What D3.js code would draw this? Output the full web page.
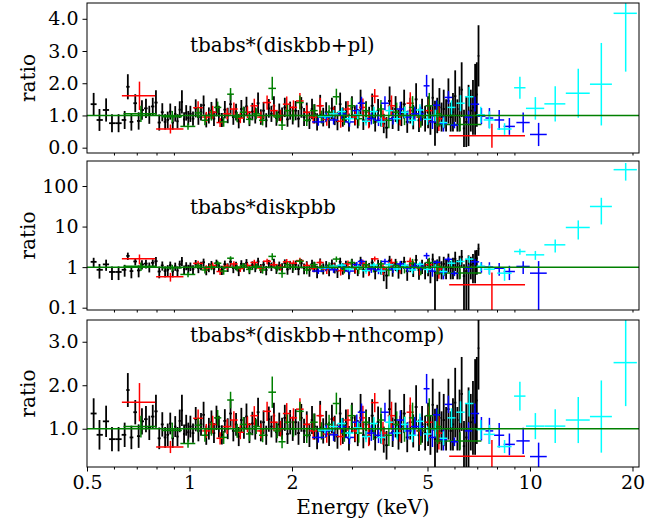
<!DOCTYPE html>
<html>
<head>
<meta charset="utf-8">
<script src="https://cdn.jsdelivr.net/npm/d3@7"></script>
<style>
  body { margin: 0; background: #fff; }
  text { font-family: "DejaVu Serif", serif; fill: #000; }
</style>
</head>
<body>
<svg id="chart" width="670" height="531"></svg>
<script>
// ---- data: rows are [energy keV, ratio, ratio error] (+ half width keV for the wide-bin groups)

// black group, contiguous narrow bins
const blackData = [
  [0.523,1.35,0.35],[0.544,0.86,0.34],[0.569,1.17,0.36],[0.592,0.76,0.28],[0.619,0.76,0.28],
  [0.645,0.86,0.28],[0.659,1.89,0.39],[0.675,0.80,0.27],[0.693,1.38,0.28],[0.709,0.83,0.27],
  [0.725,1.17,0.30],[0.745,1.22,0.30],[0.762,1.02,0.28],[0.780,1.28,0.27],[0.797,1.40,0.38],
  [0.815,0.78,0.25],[0.832,1.10,0.28],[0.848,0.80,0.24],[0.863,0.86,0.26],[0.878,1.12,0.25],
  [0.893,0.78,0.22],[0.908,1.05,0.24],[0.922,0.82,0.22],[0.936,1.18,0.26],[0.950,1.42,0.36],
  [0.964,0.88,0.22],[0.978,1.08,0.24],[0.992,0.92,0.22],
  [1.006,1.05,0.25],[1.024,0.90,0.22],[1.043,1.22,0.28],[1.062,0.95,0.24],[1.081,1.10,0.26],
  [1.100,1.32,0.30],[1.120,0.85,0.22],[1.140,1.00,0.25],[1.160,1.15,0.27],[1.180,0.90,0.23],
  [1.200,1.25,0.28],[1.220,1.05,0.25],[1.245,0.86,0.22],[1.270,1.18,0.27],[1.295,1.00,0.24],
  [1.320,1.35,0.32],[1.345,0.95,0.24],[1.370,1.10,0.26],[1.395,0.82,0.22],[1.420,1.20,0.28],
  [1.445,1.02,0.25],[1.470,1.28,0.30],[1.500,0.90,0.23],[1.530,1.12,0.27],[1.560,1.00,0.25],
  [1.590,1.38,0.33],[1.620,0.95,0.24],[1.650,1.15,0.27],[1.680,0.85,0.22],[1.710,1.22,0.29],
  [1.740,1.05,0.25],[1.770,1.30,0.30],[1.800,0.92,0.24],[1.835,1.10,0.27],[1.870,1.00,0.25],
  [1.905,1.25,0.30],[1.940,0.88,0.23],[1.975,1.15,0.28],
  [2.01,1.00,0.28],[2.05,1.15,0.30],[2.09,0.90,0.27],[2.13,1.25,0.32],[2.17,0.95,0.28],
  [2.21,1.10,0.30],[2.25,0.85,0.27],[2.29,1.20,0.32],[2.33,1.05,0.30],[2.37,0.80,0.27],
  [2.42,1.30,0.34],[2.47,0.95,0.29],[2.52,1.10,0.31],[2.57,0.88,0.28],[2.62,1.22,0.33],
  [2.67,1.00,0.30],[2.72,0.82,0.28],[2.77,1.35,0.36],[2.82,0.95,0.30],[2.88,1.12,0.32],
  [2.94,0.78,0.28],[3.00,1.25,0.35],[3.06,1.00,0.31],[3.12,0.90,0.30],[3.18,1.40,0.40],
  [3.24,0.85,0.30],[3.30,1.10,0.34],[3.37,0.95,0.32],[3.44,1.30,0.38],[3.51,0.80,0.30],
  [3.58,1.15,0.36],[3.65,1.00,0.34],[3.72,0.75,0.30],[3.79,0.62,0.33],[3.87,1.45,0.45],
  [3.95,0.92,0.34],[4.03,1.20,0.40],[4.11,0.85,0.33],[4.19,1.05,0.38],[4.27,1.35,0.45],
  [4.36,0.80,0.34],[4.45,1.15,0.40],[4.54,0.95,0.38],[4.63,1.50,0.50],[4.72,0.85,0.36],
  [4.82,1.10,0.42],[4.92,0.90,0.40],
  [5.02,1.10,0.50],[5.10,0.85,0.45],[5.18,1.55,0.60],[5.26,0.76,0.70],[5.34,1.00,0.55],
  [5.42,1.25,0.60],[5.50,0.95,0.45],[5.58,1.20,0.60],[5.67,1.00,0.50],[5.76,1.45,0.70],
  [5.85,0.95,0.45],[5.94,1.10,0.60],[6.03,1.60,0.80],[6.12,1.00,0.50],[6.21,1.20,0.70],
  [6.30,1.80,0.85],[6.40,0.60,0.58],[6.50,0.80,0.78],[6.60,1.00,0.95],[6.70,1.15,0.65],
  [6.80,1.25,0.85],[6.90,1.50,1.10],[6.98,1.65,1.00],[7.06,2.85,0.95]
];

const redData = [
  [0.713,1.61,0.44,0.080],[0.879,0.58,0.14,0.081],[1.06,1.24,0.20,0.035],[1.12,0.95,0.16,0.030],
  [1.17,1.10,0.20,0.030],[1.23,0.78,0.14,0.030],[1.29,1.05,0.17,0.035],[1.35,1.20,0.20,0.035],
  [1.41,0.92,0.16,0.035],[1.48,1.10,0.18,0.040],[1.55,1.30,0.22,0.040],[1.62,0.95,0.17,0.040],
  [1.69,1.40,0.22,0.045],[1.77,1.15,0.20,0.045],[1.85,1.00,0.18,0.050],[1.93,1.35,0.24,0.050],
  [2.02,1.25,0.22,0.050],[2.11,1.45,0.25,0.055],[2.21,1.10,0.22,0.055],[2.31,0.95,0.20,0.060],
  [2.42,1.30,0.25,0.060],[2.53,0.88,0.20,0.065],[2.65,1.05,0.22,0.070],[2.78,0.82,0.20,0.070],
  [2.92,1.20,0.25,0.075],[3.07,0.95,0.24,0.080],[3.23,1.25,0.28,0.080],[3.36,0.85,0.25,0.070],
  [3.50,1.60,0.22,0.090],[3.70,0.90,0.26,0.090],[3.92,1.30,0.32,0.100],[4.15,1.00,0.30,0.100],
  [4.45,1.38,0.34,0.110],[4.75,0.95,0.32,0.120],[5.05,1.15,0.36,0.120],[5.40,0.90,0.38,0.150],
  [7.73,0.37,0.37,1.94]
];

const greenData = [
  [0.72,1.05,0.25,0.080],[0.89,0.96,0.18,0.060],[0.99,0.66,0.10,0.050],[1.06,1.08,0.16,0.025],
  [1.11,0.85,0.15,0.025],[1.16,1.00,0.16,0.030],[1.21,1.25,0.18,0.030],[1.26,0.80,0.15,0.030],
  [1.32,1.66,0.19,0.030],[1.38,0.95,0.16,0.035],[1.44,1.10,0.17,0.035],[1.50,0.88,0.16,0.035],
  [1.57,1.05,0.17,0.040],[1.64,0.85,0.16,0.040],[1.75,1.84,0.36,0.045],[1.81,0.95,0.17,0.045],
  [1.87,0.70,0.15,0.045],[1.94,1.15,0.18,0.045],[2.02,1.00,0.18,0.050],[2.11,1.40,0.22,0.055],
  [2.21,0.85,0.18,0.055],[2.32,1.15,0.20,0.060],[2.44,0.95,0.20,0.060],[2.57,1.10,0.22,0.065],
  [2.70,1.58,0.25,0.065],[2.85,0.90,0.20,0.070],[2.99,1.30,0.25,0.075],[3.14,0.90,0.22,0.080],
  [3.30,1.15,0.25,0.080],[3.47,1.00,0.26,0.085],[3.65,1.20,0.28,0.090],[3.85,0.85,0.25,0.095],
  [4.06,1.10,0.30,0.100],[4.28,1.00,0.30,0.105],[4.52,1.25,0.35,0.110],[4.78,0.95,0.32,0.120],
  [5.06,1.30,0.40,0.130],[5.36,1.05,0.40,0.140],[6.23,0.72,0.20,0.97]
];

const blueData = [
  [2.39,0.80,0.12,0.10],[2.52,0.95,0.14,0.08],[2.65,0.86,0.14,0.08],[2.80,1.05,0.15,0.085],
  [2.95,0.80,0.15,0.09],[3.10,1.15,0.18,0.09],[3.20,1.38,0.20,0.08],[3.42,0.90,0.18,0.10],
  [3.59,0.85,0.18,0.10],[3.75,1.38,0.22,0.10],[3.96,0.90,0.18,0.11],[4.16,1.20,0.22,0.11],
  [4.37,0.95,0.20,0.12],[4.59,1.05,0.22,0.12],[4.78,1.05,0.22,0.10],[4.97,1.92,0.34,0.10],
  [5.17,0.80,0.22,0.12],[5.32,1.32,0.15,0.13],[5.57,0.75,0.25,0.14],[5.76,1.56,0.20,0.15],
  [6.00,0.70,0.10,0.15],[6.60,0.95,0.20,0.17],[6.89,1.35,0.23,0.20]
];

const cyanData = [
  [2.50,0.97,0.08,0.12],[2.65,1.05,0.12,0.08],[2.80,1.12,0.12,0.08],[2.95,0.90,0.12,0.085],
  [3.12,1.02,0.14,0.09],[3.30,0.82,0.13,0.09],[3.48,1.12,0.15,0.095],[3.66,0.80,0.14,0.10],
  [3.86,1.15,0.16,0.10],[4.07,0.90,0.15,0.11],[4.29,1.10,0.17,0.11],[4.52,0.85,0.16,0.12],
  [4.75,1.17,0.18,0.12],[5.00,0.88,0.17,0.13],[5.27,1.00,0.18,0.14],[5.57,0.78,0.16,0.15],
  [5.88,1.25,0.22,0.16],[6.25,1.38,0.25,0.18],[6.63,1.58,0.30,0.19]
];

// high energy points differ between the three fits
const blueHi1 = [[7.20,0.98,0.25,0.20],[7.60,0.92,0.31,0.20],[8.12,0.86,0.31,0.28],[8.70,0.66,0.26,0.33],[9.55,0.78,0.31,0.43],[10.6,0.41,0.36,0.60]];
const blueHi2 = [[7.20,1.03,0.30,0.20],[7.60,1.00,0.32,0.20],[8.12,0.94,0.33,0.28],[8.70,0.78,0.30,0.33],[9.55,1.04,0.36,0.43],[10.6,0.71,0.70,0.60]];
const blueHi3 = [[7.20,1.00,0.27,0.20],[7.60,0.95,0.30,0.20],[8.12,0.85,0.28,0.28],[8.70,0.64,0.25,0.33],[9.55,0.72,0.30,0.43],[10.6,0.36,0.32,0.60]];

const cyanHi1 = [[7.17,1.02,0.25,0.20],[7.60,0.86,0.27,0.29],[8.42,0.58,0.18,0.41],[9.34,1.86,0.34,0.36],[10.37,1.22,0.35,0.64],[11.86,1.36,0.55,0.84],[13.86,1.69,0.76,1.12],[16.2,1.97,1.28,1.20],[19.1,4.17,1.81,1.50]];
const cyanHi2 = [[7.17,1.05,0.25,0.20],[7.60,0.89,0.25,0.29],[8.42,0.71,0.25,0.41],[9.34,2.43,0.40,0.36],[10.37,2.01,0.50,0.64],[11.86,3.55,1.25,0.84],[13.86,9.5,4.7,1.12],[16.2,31.3,20,1.20],[19.1,253,117,1.50]];
const cyanHi3 = [[7.17,0.98,0.22,0.20],[7.60,0.87,0.22,0.29],[8.42,0.59,0.15,0.41],[9.34,1.75,0.33,0.36],[10.37,1.06,0.30,0.64],[11.86,1.06,0.39,0.84],[13.86,1.20,0.53,1.12],[16.2,1.28,0.83,1.20],[19.1,2.52,1.00,1.50]];

const modelNames = ['tbabs*(diskbb+pl)', 'tbabs*diskpbb', 'tbabs*(diskbb+nthcomp)'];
const yTicks1 = [0, 1, 2, 3, 4];
const yTicks2 = [0.1, 1, 10, 100];
const yTicks3 = [1, 2, 3];
const xTickVals = [0.5, 1, 2, 5, 10, 20];
const xMinorBottom = [0.6, 0.7, 0.8, 0.9, 3, 4, 6, 7, 8, 9];
const xMinorUpper = [0.6, 0.7, 0.8, 0.9, 2, 3, 4, 5, 6, 7, 8, 9, 20];

// ---- layout
const svg = d3.select('#chart');
const left = 87, right = 639;
const x = d3.scaleLog().domain([0.5, 20.9]).range([left, right]);

const panels = [
  { top: 3, bottom: 153, y: d3.scaleLinear().domain([-0.165, 4.49]), ticks: yTicks1, fmt: d3.format('.1f'),
    blueHi: blueHi1, cyanHi: cyanHi1, titleY: 52 },
  { top: 161, bottom: 310, y: d3.scaleLog().domain([0.0877, 414]), ticks: yTicks2, fmt: d => String(d),
    blueHi: blueHi2, cyanHi: cyanHi2, titleY: 214 },
  { top: 320, bottom: 467, y: d3.scaleLinear().domain([0.12, 3.5]), ticks: yTicks3, fmt: d3.format('.1f'),
    blueHi: blueHi3, cyanHi: cyanHi3, titleY: 342 }
];

function drawGroup(g, rows, color, x, y, contiguous, lw) {
  const isLog = typeof y.base === 'function';
  const yb = y.range()[0];
  const yv = v => (isLog && v <= 0) ? yb + 20 : y(v);
  const grp = g.append('g').attr('stroke', color).attr('stroke-width', lw).attr('fill', 'none');
  rows.forEach((r, i) => {
    const e = r[0], val = r[1], err = r[2];
    let lo, hi;
    if (contiguous) {
      const prev = i > 0 ? rows[i - 1][0] : e - (rows[i + 1][0] - e);
      const next = i < rows.length - 1 ? rows[i + 1][0] : e + (e - rows[i - 1][0]);
      lo = (prev + e) / 2; hi = (e + next) / 2;
    } else {
      lo = e - r[3]; hi = e + r[3];
    }
    grp.append('line')
      .attr('x1', x(e)).attr('x2', x(e))
      .attr('y1', yv(val - err)).attr('y2', yv(val + err));
    grp.append('line')
      .attr('x1', x(lo)).attr('x2', x(hi))
      .attr('y1', y(val)).attr('y2', y(val));
  });
}

panels.forEach((p, pi) => {
  p.y.range([p.bottom, p.top]);
  const g = svg.append('g');

  const clipId = 'clip' + pi;
  svg.append('clipPath').attr('id', clipId)
    .append('rect').attr('x', left).attr('y', p.top)
    .attr('width', right - left).attr('height', p.bottom - p.top);

  const plot = g.append('g').attr('clip-path', 'url(#' + clipId + ')');
  drawGroup(plot, blackData, '#000000', x, p.y, true, 1.8);
  drawGroup(plot, redData, '#ff0000', x, p.y, false, 1.5);
  drawGroup(plot, greenData, '#008000', x, p.y, false, 1.5);
  drawGroup(plot, blueData.concat(p.blueHi), '#0000ff', x, p.y, false, 1.5);
  drawGroup(plot, cyanData.concat(p.cyanHi), '#00ffff', x, p.y, false, 1.5);

  // ratio = 1 reference
  plot.append('line')
    .attr('x1', left).attr('x2', right)
    .attr('y1', p.y(1)).attr('y2', p.y(1))
    .attr('stroke', '#008000').attr('stroke-width', 1.5);

  // frame
  g.append('rect')
    .attr('x', left).attr('y', p.top)
    .attr('width', right - left).attr('height', p.bottom - p.top)
    .attr('fill', 'none').attr('stroke', '#000').attr('stroke-width', 1);

  // y axis
  const ya = g.append('g').attr('transform', 'translate(' + left + ',0)')
    .call(d3.axisLeft(p.y).tickValues(p.ticks).tickFormat(p.fmt).tickSize(4.5).tickPadding(4));
  ya.select('.domain').remove();
  ya.selectAll('text').attr('font-size', 19).attr('font-family', '"DejaVu Serif", serif');

  // x axis ticks
  const last = pi === panels.length - 1;
  if (last) {
    const xa = g.append('g').attr('transform', 'translate(0,' + p.bottom + ')')
      .call(d3.axisBottom(x).tickValues(xTickVals).tickFormat(d => String(d)).tickSize(4.5).tickPadding(4));
    xa.select('.domain').remove();
    xa.selectAll('text').attr('font-size', 19).attr('font-family', '"DejaVu Serif", serif');
    const xm = g.append('g').attr('transform', 'translate(0,' + p.bottom + ')')
      .call(d3.axisBottom(x).tickValues(xMinorBottom).tickFormat('').tickSize(2.5));
    xm.select('.domain').remove();
  } else {
    const xm = g.append('g').attr('transform', 'translate(0,' + p.bottom + ')')
      .call(d3.axisBottom(x).tickValues(xMinorUpper).tickFormat('').tickSize(2.5));
    xm.select('.domain').remove();
  }

  // model name
  g.append('text').attr('x', 190).attr('y', p.titleY)
    .attr('font-size', 20).text(modelNames[pi]);

  // y label
  g.append('text')
    .attr('transform', 'translate(35,' + (p.top + p.bottom) / 2 + ') rotate(-90)')
    .attr('text-anchor', 'middle').attr('font-size', 20).text('ratio');
});

svg.append('text').attr('x', (left + right) / 2).attr('y', 514)
  .attr('text-anchor', 'middle').attr('font-size', 20).text('Energy (keV)');
</script>
</body>
</html>
